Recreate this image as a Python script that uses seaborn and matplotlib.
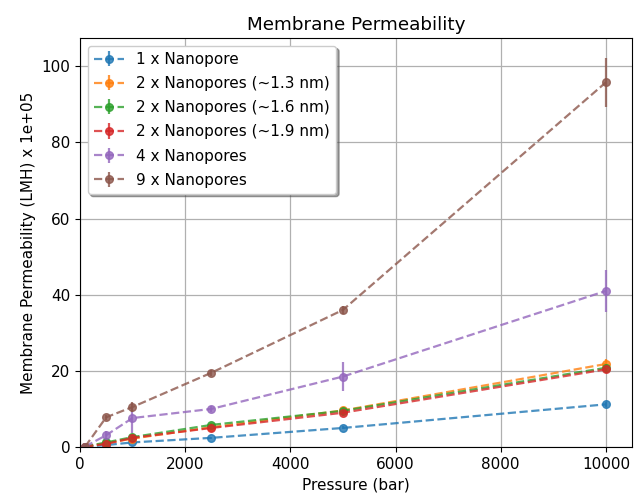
import matplotlib
matplotlib.use("Agg")
import matplotlib.pyplot as plt
import seaborn as sns
import numpy as np

pressure = [100, 500, 1000, 2500, 5000, 10000]
labels = ["1 x Nanopore", "2 x Nanopores (~1.3 nm)", "2 x Nanopores (~1.6 nm)",
          "2 x Nanopores (~1.9 nm)", "4 x Nanopores", "9 x Nanopores"]
perm_1 = [0.1, 0.5, 1.2, 2.4, 5.0, 11.2]
perm_2a = [0.1, 1.0, 2.2, 5.2, 9.6, 21.8]
perm_2b = [0.1, 1.2, 2.6, 5.8, 9.5, 20.8]
perm_2c = [0.1, 0.8, 2.4, 5.0, 9.0, 20.4]
perm_4 = [0.1, 3.1, 7.6, 10.0, 18.5, 41.0]
perm_9 = [0.1, 7.8, 10.5, 19.5, 36.0, 95.8]
err_1 = [0.0, 0.1, 0.2, 0.3, 0.4, 0.6]
err_2a = [0.0, 0.2, 0.4, 0.6, 0.8, 1.2]
err_2b = [0.0, 0.2, 0.4, 0.6, 0.8, 1.0]
err_2c = [0.0, 0.2, 0.4, 0.6, 0.8, 1.0]
err_4 = [0.0, 1.2, 4.0, 0.8, 3.8, 5.5]
err_9 = [0.0, 0.6, 1.2, 0.8, 1.0, 6.5]

series = [perm_1, perm_2a, perm_2b, perm_2c, perm_4, perm_9]
errors = [err_1, err_2a, err_2b, err_2c, err_4, err_9]

sns.set_style("ticks", {"text.color": "black", "axes.labelcolor": "black",
                        "xtick.color": "black", "ytick.color": "black",
                        "axes.edgecolor": "black"})
palette = sns.color_palette("tab10", 6)

fig, ax = plt.subplots(figsize=(6.39, 4.95), dpi=100)
fig.subplots_adjust(left=0.125, right=0.989, top=0.923, bottom=0.097)
for lab, ys, es, c in zip(labels, series, errors, palette):
    ax.errorbar(pressure, ys, yerr=es, fmt='--o', color=c, markersize=5.5,
                linewidth=1.6, alpha=0.8, label=lab)

ax.set_xlim(left=0)
ax.set_ylim(bottom=0)
ax.grid(True, color='#b0b0b0', linewidth=0.9)
ax.set_title("Membrane Permeability", fontsize=13.2)
ax.set_xlabel("Pressure (bar)", fontsize=11)
ax.set_ylabel("Membrane Permeability (LMH) x 1e+05", fontsize=11)
ax.tick_params(labelsize=11)
ax.legend(loc='upper left', shadow=True, fancybox=True, fontsize=11,
          labelspacing=0.6)
fig.savefig("out.png", dpi=100)
